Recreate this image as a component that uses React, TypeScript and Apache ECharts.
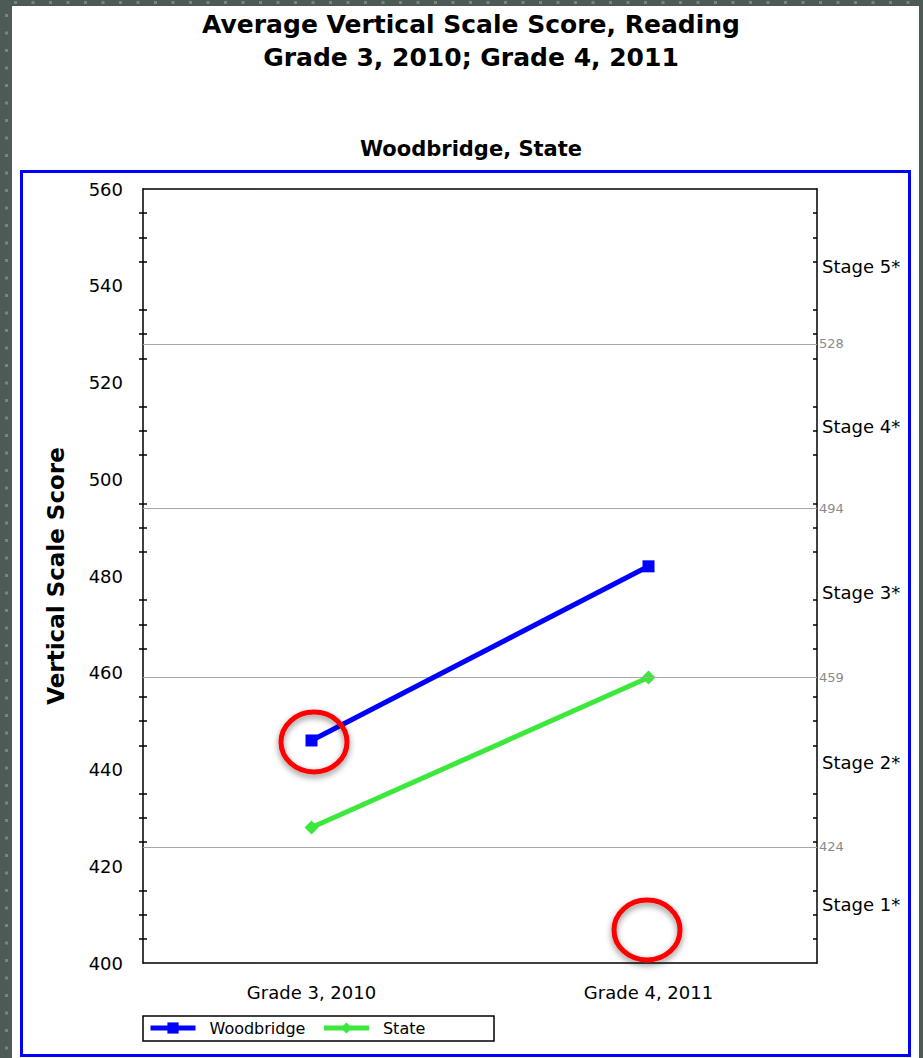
import React, { useEffect, useRef } from "react";
import * as echarts from "echarts";

const FONT = "DejaVu Sans";
const categories = ["Grade 3, 2010", "Grade 4, 2011"];
const woodbridge = [446, 482];
const state = [428, 459];
const stageCuts = [424, 459, 494, 528];
const stages = [
  { name: "Stage 1*", from: 400, to: 424 },
  { name: "Stage 2*", from: 424, to: 459 },
  { name: "Stage 3*", from: 459, to: 494 },
  { name: "Stage 4*", from: 494, to: 528 },
  { name: "Stage 5*", from: 528, to: 560 },
];
const yMin = 400;
const yMax = 560;
const yStep = 20;

export default function App() {
  const ref = useRef<HTMLDivElement>(null);
  useEffect(() => {
    if (!ref.current) return;
    const chart = echarts.init(ref.current, null, { renderer: "svg" });
    const dark = "#4e5a55";
    const dot = "#7b8580";
    const deco: any[] = [
      { type: "rect", shape: { x: 0, y: 0, width: 12, height: 1058 }, style: { fill: dark }, z: -10 },
      { type: "rect", shape: { x: 0, y: 0, width: 923, height: 6 }, style: { fill: dark }, z: -10 },
      { type: "rect", shape: { x: 919, y: 0, width: 4, height: 1058 }, style: { fill: dark }, z: -10 },
    ];
    for (let i = 0; i < 61; i++) {
      deco.push({ type: "rect", shape: { x: 5, y: 14 + i * 17.5, width: 3, height: 3 }, style: { fill: dot }, z: -9 });
    }
    for (let i = 0; i < 53; i++) {
      deco.push({ type: "rect", shape: { x: 14 + i * 17.5, y: 1, width: 3, height: 3 }, style: { fill: dot }, z: -9 });
    }
    const yAxisBase = {
      type: "value",
      min: yMin,
      max: yMax,
      interval: yStep,
      splitLine: { show: false },
      minorTick: { show: true, splitNumber: 4, length: 4, lineStyle: { color: "#000", width: 1.5 } },
    };
    chart.setOption({
      animation: false,
      backgroundColor: "#ffffff",
      title: [
        {
          text: "Average Vertical Scale Score, Reading\nGrade 3, 2010; Grade 4, 2011",
          left: 466,
          top: 3,
          textAlign: "center",
          textStyle: { fontFamily: FONT, fontWeight: "bold", fontSize: 25, lineHeight: 33, color: "#000" },
        },
        {
          text: "Woodbridge, State",
          left: 466,
          top: 133,
          textAlign: "center",
          textStyle: { fontFamily: FONT, fontWeight: "bold", fontSize: 21, color: "#000" },
        },
      ],
      grid: { left: 143, top: 189, width: 674, height: 774 },
      legend: {
        data: ["Woodbridge", "State"],
        left: 143,
        top: 1015,
        itemWidth: 45,
        itemHeight: 14,
        itemGap: 16,
        lineStyle: { width: 5 },
        textStyle: { fontFamily: FONT, fontSize: 16, color: "#000", padding: [0, 0, 0, 9] },
      },
      xAxis: [
        {
          type: "category",
          data: categories,
          position: "bottom",
          axisLine: { lineStyle: { color: "#000", width: 1.5 } },
          axisTick: { alignWithLabel: true, length: 7, lineStyle: { color: "#000", width: 1.5 } },
          axisLabel: { margin: 20, fontFamily: FONT, fontSize: 18, color: "#000" },
        },
        {
          type: "category",
          data: categories,
          position: "bottom",
          axisLine: { show: false },
          axisTick: { inside: true, alignWithLabel: true, length: 7, lineStyle: { color: "#000", width: 1.5 } },
          axisLabel: { show: false },
        },
        {
          type: "category",
          data: categories,
          position: "top",
          axisLine: { lineStyle: { color: "#000", width: 1.5 } },
          axisTick: { inside: true, alignWithLabel: true, length: 7, lineStyle: { color: "#000", width: 1.5 } },
          axisLabel: { show: false },
        },
      ],
      yAxis: [
        {
          ...yAxisBase,
          position: "left",
          name: "Vertical Scale Score",
          nameLocation: "middle",
          nameGap: 76,
          nameTextStyle: { fontFamily: FONT, fontWeight: "bold", fontSize: 23, color: "#000" },
          axisLine: { show: true, lineStyle: { color: "#000", width: 1.5 } },
          axisTick: { length: 8, lineStyle: { color: "#000", width: 1.5 } },
          axisLabel: { margin: 20, fontFamily: FONT, fontSize: 18, color: "#000" },
        },
        {
          ...yAxisBase,
          position: "left",
          axisLine: { show: false },
          axisTick: { inside: true, length: 8, lineStyle: { color: "#000", width: 1.5 } },
          axisLabel: { show: false },
        },
        {
          ...yAxisBase,
          position: "right",
          axisLine: { show: true, lineStyle: { color: "#000", width: 1.5 } },
          axisTick: { inside: true, length: 8, lineStyle: { color: "#000", width: 1.5 } },
          axisLabel: { show: false },
        },
      ],
      series: [
        {
          name: "Woodbridge",
          type: "line",
          data: woodbridge,
          xAxisIndex: 0,
          yAxisIndex: 0,
          itemStyle: { color: "#0000ff" },
          lineStyle: { width: 5, color: "#0000ff" },
          symbol: "rect",
          symbolSize: 12,
          z: 5,
          markLine: {
            silent: true,
            symbol: "none",
            lineStyle: { color: "#a8a8a8", width: 1, type: "solid" },
            label: { position: "end", formatter: "{c}", color: "#8a8a8a", fontFamily: FONT, fontSize: 13, distance: 2 },
            data: stageCuts.map((v) => ({ yAxis: v })),
          },
          markArea: {
            silent: true,
            itemStyle: { color: "rgba(0,0,0,0)" },
            label: { show: true, position: "right", distance: 5, color: "#000", fontFamily: FONT, fontSize: 18 },
            data: stages.map((s) => [{ name: s.name, yAxis: s.from }, { yAxis: s.to }]),
          },
        },
        {
          name: "State",
          type: "line",
          data: state,
          xAxisIndex: 0,
          yAxisIndex: 0,
          itemStyle: { color: "#3de83d" },
          lineStyle: { width: 5, color: "#3de83d" },
          symbol: "diamond",
          symbolSize: 14,
          z: 4,
        },
      ],
      graphic: [
        ...deco,
        { type: "rect", shape: { x: 21.5, y: 171.5, width: 888, height: 884 }, style: { fill: "none", stroke: "#0000ff", lineWidth: 3 }, z: 50 },
        { type: "rect", shape: { x: 143, y: 1016, width: 351, height: 25 }, style: { fill: "none", stroke: "#000", lineWidth: 1.5 }, z: 50 },
        {
          type: "ellipse",
          shape: { cx: 314, cy: 742, rx: 33, ry: 30 },
          style: { fill: "none", stroke: "#ff0000", lineWidth: 5, shadowBlur: 6, shadowColor: "rgba(0,0,0,0.45)", shadowOffsetY: 3 },
          z: 100,
        },
        {
          type: "ellipse",
          shape: { cx: 647, cy: 930, rx: 33, ry: 30 },
          style: { fill: "none", stroke: "#ff0000", lineWidth: 5, shadowBlur: 6, shadowColor: "rgba(0,0,0,0.45)", shadowOffsetY: 3 },
          z: 100,
        },
      ],
    });
    return () => chart.dispose();
  }, []);
  return <div ref={ref} style={{ position: "absolute", left: 0, top: 0, width: 923, height: 1058 }} />;
}
